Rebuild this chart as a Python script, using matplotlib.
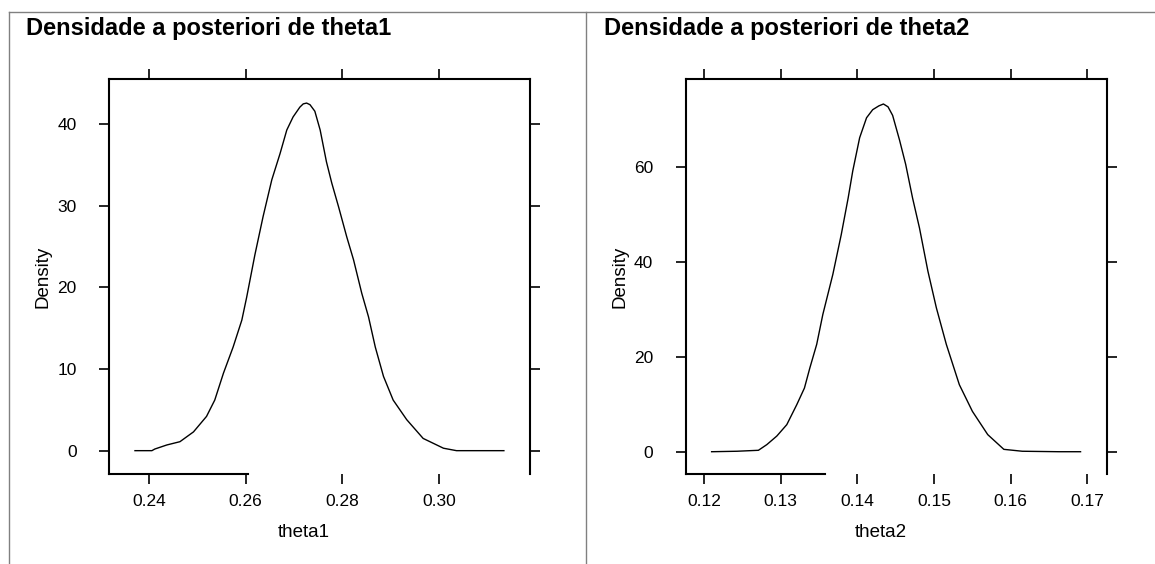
import matplotlib
matplotlib.use('Agg')
import matplotlib.pyplot as plt
from matplotlib import font_manager
from matplotlib.lines import Line2D

# pick a narrow font if one is there
fams = set(f.name for f in font_manager.fontManager.ttflist)
font = 'Liberation Sans Narrow' if 'Liberation Sans Narrow' in fams else 'Liberation Sans'
plt.rcParams['font.family'] = [font, 'DejaVu Sans']

# posterior density of theta1
theta1 = [0.2371, 0.2406, 0.2412, 0.2437, 0.2464, 0.2492, 0.2519, 0.2536, 0.2554, 0.2574,
          0.2592, 0.2602, 0.2619, 0.2636, 0.2654, 0.2671, 0.2685, 0.2698, 0.2712, 0.2719,
          0.2726, 0.2733, 0.2743, 0.2754, 0.2767, 0.2778, 0.2792, 0.2809, 0.2823, 0.2840,
          0.2854, 0.2868, 0.2885, 0.2905, 0.2933, 0.2967, 0.3009, 0.3036, 0.3134]
dens1 = [0.0, 0.0, 0.2, 0.7, 1.1, 2.3, 4.2, 6.2, 9.5, 12.7,
         16.0, 18.8, 24.0, 28.7, 33.2, 36.4, 39.3, 40.9, 42.1, 42.5,
         42.6, 42.4, 41.6, 39.3, 35.4, 32.8, 29.9, 26.2, 23.4, 19.3,
         16.4, 12.7, 9.1, 6.2, 3.8, 1.5, 0.3, 0.0, 0.0]

# posterior density of theta2
theta2 = [0.1210, 0.1243, 0.1271, 0.1282, 0.1295, 0.1308, 0.1321, 0.1331, 0.1338, 0.1347,
          0.1355, 0.1368, 0.1379, 0.1388, 0.1394, 0.1403, 0.1412, 0.1420, 0.1428, 0.1434,
          0.1440, 0.1446, 0.1455, 0.1463, 0.1472, 0.1481, 0.1492, 0.1503, 0.1516, 0.1533,
          0.1550, 0.1570, 0.1591, 0.1615, 0.1663, 0.1691]
dens2 = [0.0, 0.1, 0.3, 1.5, 3.3, 5.7, 9.9, 13.4, 17.6, 22.6,
         28.9, 37.3, 45.7, 53.4, 59.1, 66.1, 70.3, 72.0, 72.8, 73.2,
         72.6, 70.8, 65.6, 60.5, 53.4, 47.1, 38.0, 30.3, 22.6, 14.1,
         8.5, 3.6, 0.5, 0.1, 0.0, 0.0]

xticks1 = [0.24, 0.26, 0.28, 0.30]
xlabels1 = ['0.24', '0.26', '0.28', '0.30']
yticks1 = [0, 10, 20, 30, 40]
xticks2 = [0.12, 0.13, 0.14, 0.15, 0.16, 0.17]
xlabels2 = ['0.12', '0.13', '0.14', '0.15', '0.16', '0.17']
yticks2 = [0, 20, 40, 60]

fig = plt.figure(figsize=(11.55, 5.64), dpi=100)

# gray panel frames
fig.add_artist(Line2D([9/1155, 1], [1-12/564, 1-12/564], color='#808080', lw=1))
fig.add_artist(Line2D([9/1155, 9/1155], [0, 1-12/564], color='#808080', lw=1))
fig.add_artist(Line2D([586/1155, 586/1155], [0, 1-12/564], color='#808080', lw=1))


def panel(rect, x, y, xlim, ylim, xticks, xlabels, yticks, spine_end, title, xlab, title_x):
    ax = fig.add_axes(rect)
    ax.plot(x, y, color='black', lw=1.0)
    ax.set_xlim(xlim)
    ax.set_ylim(ylim)
    ax.set_xticks(xticks)
    ax.set_xticklabels(xlabels)
    ax.set_yticks(yticks)
    ax.set_yticklabels([str(v) for v in yticks])
    for s in ax.spines.values():
        s.set_linewidth(1.5)
    # lattice left the bottom border only partly drawn
    ax.spines['bottom'].set_bounds(xlim[0], spine_end)
    ax.tick_params(axis='both', which='both', direction='out', length=7.5, width=1.2,
                   top=True, right=True, labelsize=12.5)
    ax.tick_params(axis='x', pad=7)
    ax.tick_params(axis='y', pad=16)
    ax.set_xlabel(xlab, fontsize=13.5)
    ax.xaxis.set_label_coords(0.463, -0.149)
    ax.xaxis.label.set_va('center')
    ax.set_ylabel('Density', fontsize=13.5)
    ax.yaxis.set_label_coords(-0.157, 0.5)
    ax.yaxis.label.set_va('center')
    fig.text(title_x, 1 - 28/564, title, fontsize=17, fontweight='bold', ha='left', va='center')
    return ax


panel([109.3/1155, 1-474/564, 420.7/1155, 395/564], theta1, dens1,
      (0.23179, 0.31880), (-2.86, 45.55), xticks1, xlabels1, yticks1, 0.2604,
      'Densidade a posteriori de theta1', 'theta1', 26/1155)
panel([685.7/1155, 1-474/564, 421/1155, 395/564], theta2, dens2,
      (0.11762, 0.17251), (-4.69, 78.46), xticks2, xlabels2, yticks2, 0.13573,
      'Densidade a posteriori de theta2', 'theta2', 604/1155)

fig.savefig('out.png', dpi=100)
